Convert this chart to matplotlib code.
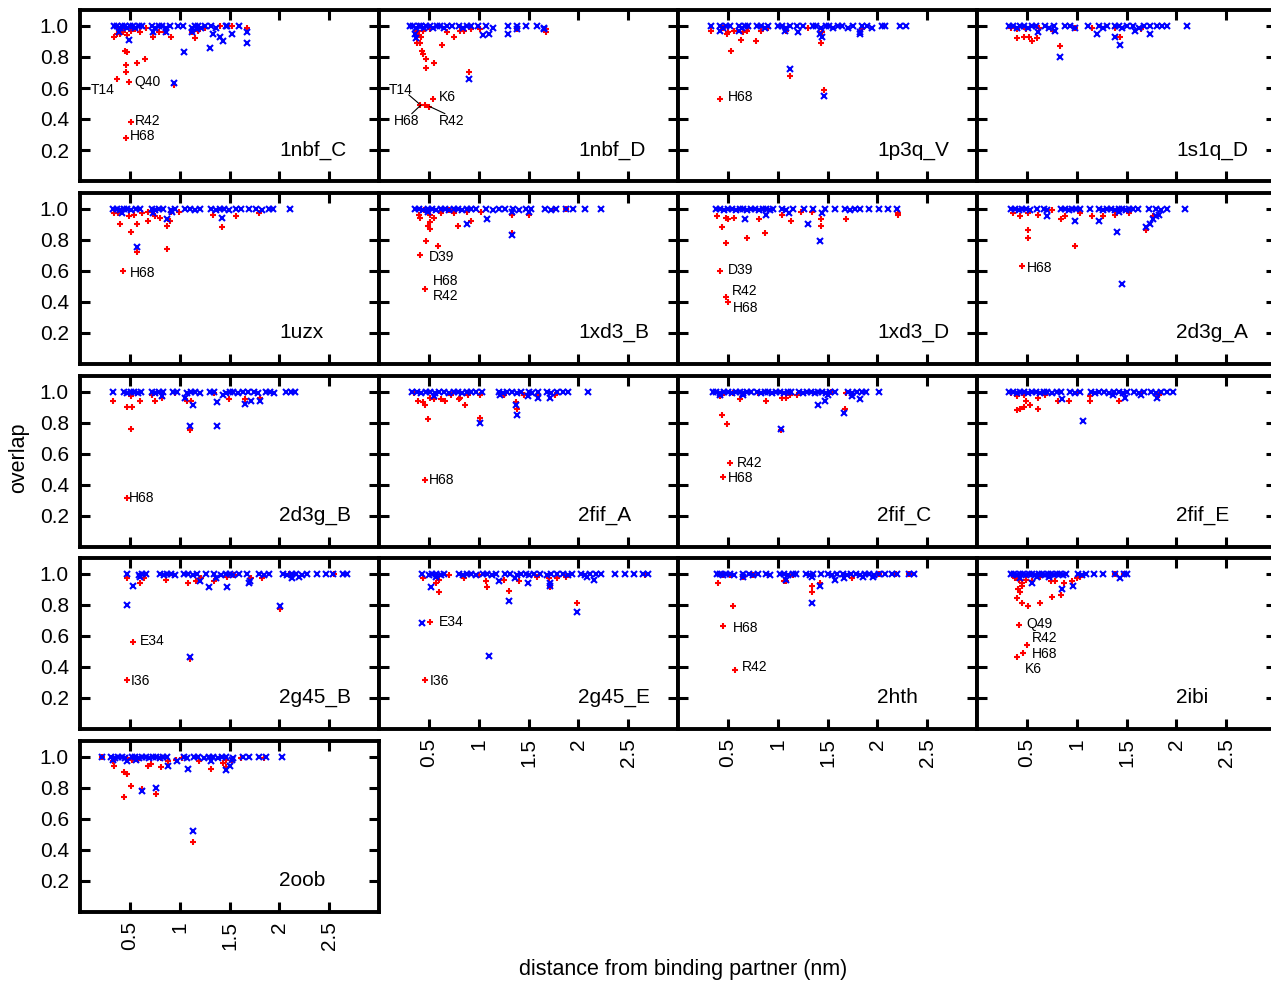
import matplotlib
matplotlib.use("Agg")
import matplotlib.pyplot as plt

plt.rcParams['font.family'] = ['Liberation Sans', 'DejaVu Sans']

panel_names = ["1nbf_C", "1nbf_D", "1p3q_V", "1s1q_D",
               "1uzx", "1xd3_B", "1xd3_D", "2d3g_A",
               "2d3g_B", "2fif_A", "2fif_C", "2fif_E",
               "2g45_B", "2g45_E", "2hth", "2ibi",
               "2oob"]

x_ticks = [0.5, 1, 1.5, 2, 2.5]
x_tick_labels = ["0.5", "1", "1.5", "2", "2.5"]
y_ticks = [0.2, 0.4, 0.6, 0.8, 1.0]
y_tick_labels = ["0.2", "0.4", "0.6", "0.8", "1.0"]

# ---------------- data (distance nm, overlap) ----------------
red_1nbf_C = [(0.34,0.93),(0.37,0.95),(0.40,0.95),(0.43,0.96),(0.47,0.94),(0.51,0.97),(0.55,0.98),(0.60,0.96),(0.66,0.99),(0.73,0.93),(0.79,0.96),(0.85,0.96),(0.91,0.93),(1.12,0.96),(1.15,0.92),(1.18,0.97),(1.25,0.99),(1.40,1.0),(1.53,1.0),(1.68,0.99),(0.38,0.99),(0.44,0.99),(0.52,0.99),
              (0.45,0.84),(0.47,0.83),(0.46,0.75),(0.46,0.70),(0.37,0.66),(0.49,0.64),(0.57,0.76),(0.65,0.79),(0.51,0.38),(0.46,0.28),(0.94,0.62)]
blue_1nbf_C = [(0.34,1.0),(0.37,1.0),(0.40,0.99),(0.42,1.0),(0.45,1.0),(0.47,0.99),(0.50,1.0),(0.53,1.0),(0.55,0.99),(0.59,1.0),(0.62,1.0),(0.72,1.0),(0.75,0.99),(0.79,1.0),(0.82,1.0),(0.86,0.99),(0.90,1.0),(0.98,1.0),(1.03,1.0),(1.12,0.99),(1.15,1.0),(1.18,1.0),(1.21,0.99),(1.25,1.0),(1.31,1.0),(1.36,0.99),(1.47,1.0),(1.60,1.0),
               (0.49,0.91),(0.39,0.96),(0.73,0.96),(0.86,0.96),(1.12,0.96),(1.17,0.98),(0.94,0.63),(1.04,0.83),(1.30,0.86),(1.33,0.95),(1.40,0.93),(1.43,0.90),(1.53,0.95),(1.46,1.0),(1.68,0.96),(1.68,0.89)]

red_1nbf_D = [(0.38,0.97),(0.44,0.97),(0.51,0.98),(0.68,0.96),(0.75,0.93),(0.81,0.97),(0.85,0.97),(0.92,0.98),(1.01,0.98),(1.38,0.98),(1.68,0.96),(1.68,0.98),(0.40,0.94),(0.42,0.93),
              (0.38,0.89),(0.41,0.89),(0.43,0.84),(0.44,0.82),(0.47,0.79),(0.47,0.73),(0.55,0.76),(0.63,0.88),(0.90,0.70),(0.41,0.49),(0.46,0.49),(0.50,0.48),(0.54,0.53)]
blue_1nbf_D = [(0.31,1.0),(0.34,1.0),(0.37,0.99),(0.40,1.0),(0.42,1.0),(0.45,0.99),(0.47,1.0),(0.51,1.0),(0.54,0.99),(0.58,1.0),(0.61,1.0),(0.65,0.99),(0.68,1.0),(0.73,1.0),(0.80,1.0),(0.84,0.99),(0.88,1.0),(0.92,1.0),(0.99,1.0),(1.07,1.0),(1.14,0.99),(1.29,1.0),(1.38,1.0),(1.47,1.0),(1.59,1.0),(1.66,0.99),
               (0.36,0.95),(0.37,0.92),(0.90,0.66),(1.04,0.94),(1.10,0.95),(1.29,0.95),(1.38,0.98),(1.66,0.98)]

red_1p3q_V = [(0.33,0.97),(0.50,0.96),(0.49,0.95),(0.56,0.97),(0.65,0.96),(0.69,0.97),(0.83,0.97),(1.08,0.97),(1.44,0.96),(1.85,0.98),(0.45,0.99),(0.70,0.99),(0.90,0.99),(1.30,0.99),
              (0.63,0.91),(0.78,0.90),(0.53,0.84),(0.42,0.53),(1.12,0.68),(1.43,0.89),(1.46,0.59)]
blue_1p3q_V = [(0.33,1.0),(0.42,1.0),(0.45,0.99),(0.48,1.0),(0.52,1.0),(0.61,1.0),(0.64,0.99),(0.67,1.0),(0.70,1.0),(0.79,1.0),(0.83,1.0),(0.87,0.99),(0.90,1.0),(1.0,1.0),(1.04,1.0),(1.08,0.99),(1.12,1.0),(1.19,1.0),(1.25,1.0),(1.35,1.0),(1.38,1.0),(1.43,0.99),(1.48,1.0),(1.52,1.0),(1.56,0.99),(1.61,1.0),(1.65,1.0),(1.71,0.99),(1.76,1.0),(1.85,1.0),(1.90,1.0),(1.95,0.99),(2.05,1.0),(2.08,1.0),(2.23,1.0),(2.29,1.0),
               (0.42,0.97),(0.61,0.97),(1.07,0.97),(1.20,0.96),(1.42,0.95),(1.44,0.93),(1.12,0.72),(1.46,0.55),(1.83,0.96),(1.83,0.95)]

red_1s1q_D = [(0.40,0.98),(0.49,0.98),(0.76,0.97),(0.98,0.99),(1.15,0.99),(1.38,0.99),(1.65,0.98),(0.34,0.99),(0.62,0.99),
              (0.40,0.92),(0.47,0.93),(0.52,0.93),(0.55,0.90),(0.60,0.92),(0.83,0.87),(1.43,0.93)]
blue_1s1q_D = [(0.32,1.0),(0.36,1.0),(0.40,0.99),(0.43,1.0),(0.47,1.0),(0.51,0.99),(0.55,1.0),(0.59,1.0),(0.68,1.0),(0.72,0.99),(0.77,1.0),(0.88,1.0),(0.93,1.0),(0.98,0.99),(1.11,1.0),(1.22,1.0),(1.26,0.99),(1.30,1.0),(1.38,1.0),(1.42,1.0),(1.45,0.99),(1.51,1.0),(1.57,1.0),(1.63,0.99),(1.68,1.0),(1.74,1.0),(1.81,1.0),(1.86,1.0),(1.91,1.0),(2.11,1.0),
               (0.61,0.96),(0.78,0.97),(1.20,0.95),(1.38,0.93),(1.43,0.88),(0.83,0.80),(1.74,0.95),(1.59,0.97)]

red_1uzx = [(0.34,0.97),(0.38,0.97),(0.49,0.95),(0.54,0.96),(0.62,0.97),(0.68,0.98),(0.75,0.95),(0.80,0.94),(0.91,0.98),(1.33,0.96),(1.57,0.95),(1.80,0.97),(0.99,0.98),
            (0.40,0.90),(0.51,0.85),(0.57,0.90),(0.68,0.92),(0.87,0.89),(0.90,0.92),(0.57,0.72),(0.87,0.74),(0.43,0.60),(1.42,0.88)]
blue_1uzx = [(0.33,1.0),(0.37,1.0),(0.40,0.99),(0.44,1.0),(0.47,1.0),(0.51,0.99),(0.56,1.0),(0.60,1.0),(0.72,1.0),(0.75,0.99),(0.79,1.0),(0.83,1.0),(0.91,0.99),(0.95,1.0),(1.05,1.0),(1.10,1.0),(1.15,0.99),(1.20,1.0),(1.31,1.0),(1.36,0.99),(1.40,1.0),(1.44,1.0),(1.49,0.99),(1.57,1.0),(1.62,1.0),(1.70,1.0),(1.77,1.0),(1.83,0.99),(1.90,1.0),(1.94,1.0),(2.11,1.0),
             (0.42,0.97),(0.57,0.75),(0.87,0.93),(1.42,0.94),(0.73,0.97),(0.92,0.98)]

red_1xd3_B = [(0.40,0.96),(0.41,0.94),(0.51,0.96),(0.55,0.94),(0.62,0.97),(0.75,0.97),(0.88,0.98),(1.02,0.98),(1.33,0.96),(1.51,0.96),(1.76,1.0),(1.88,1.0),(0.45,0.99),(0.70,0.99),
              (0.49,0.89),(0.51,0.91),(0.51,0.87),(0.79,0.89),(0.92,0.92),(0.47,0.79),(0.59,0.76),(0.41,0.70),(0.46,0.48),(1.33,0.84)]
blue_1xd3_B = [(0.36,1.0),(0.40,1.0),(0.44,0.99),(0.49,1.0),(0.53,1.0),(0.57,0.99),(0.62,1.0),(0.66,1.0),(0.70,0.99),(0.75,1.0),(0.79,1.0),(0.83,0.99),(0.88,1.0),(0.92,1.0),(0.97,1.0),(1.07,1.0),(1.14,0.99),(1.20,1.0),(1.26,1.0),(1.34,1.0),(1.40,0.99),(1.47,1.0),(1.53,1.0),(1.67,1.0),(1.73,0.99),(1.78,1.0),(1.88,1.0),(1.95,1.0),(2.07,1.0),(2.23,1.0),
               (0.88,0.90),(1.08,0.93),(1.33,0.83),(1.33,0.98),(1.51,0.98),(0.49,0.98)]

red_1xd3_D = [(0.39,0.95),(0.48,0.94),(0.50,0.93),(0.56,0.94),(0.81,0.93),(1.04,0.96),(1.23,0.98),(1.34,0.98),(1.43,0.93),(1.69,0.93),(2.21,0.97),(2.21,0.96),(0.60,0.99),(0.90,0.99),
              (0.44,0.88),(0.48,0.78),(0.69,0.81),(0.87,0.84),(1.13,0.92),(1.43,0.89),(0.42,0.60),(0.48,0.43),(0.50,0.395)]
blue_1xd3_D = [(0.38,1.0),(0.42,1.0),(0.46,0.99),(0.50,1.0),(0.54,1.0),(0.58,0.99),(0.62,1.0),(0.65,1.0),(0.69,0.99),(0.73,1.0),(0.77,1.0),(0.81,0.99),(0.85,1.0),(0.88,1.0),(0.92,0.99),(0.95,1.0),(1.04,1.0),(1.08,0.99),(1.15,1.0),(1.26,1.0),(1.35,1.0),(1.47,1.0),(1.58,1.0),(1.68,1.0),(1.73,0.99),(1.78,1.0),(1.83,1.0),(1.92,1.0),(2.02,1.0),(2.11,1.0),(2.20,1.0),
               (0.67,0.93),(0.88,0.96),(1.11,0.97),(1.30,0.90),(1.42,0.79),(1.44,0.97)]

red_2d3g_A = [(0.36,0.97),(0.43,0.95),(0.51,0.97),(0.61,0.96),(0.88,0.95),(1.03,0.97),(1.15,0.95),(1.26,0.95),(1.38,0.96),(1.53,0.97),(1.77,0.95),(0.40,0.99),(0.75,0.99),
              (0.51,0.86),(0.51,0.81),(0.84,0.93),(0.98,0.76),(1.70,0.86),(0.45,0.63)]
blue_2d3g_A = [(0.34,1.0),(0.38,1.0),(0.42,0.99),(0.45,1.0),(0.49,1.0),(0.53,0.99),(0.60,1.0),(0.67,1.0),(0.70,0.99),(0.84,1.0),(0.88,1.0),(0.92,0.99),(0.95,1.0),(0.99,1.0),(1.03,1.0),(1.13,1.0),(1.22,1.0),(1.26,0.99),(1.30,1.0),(1.34,1.0),(1.38,0.99),(1.42,1.0),(1.45,1.0),(1.49,0.99),(1.53,1.0),(1.57,1.0),(1.62,1.0),(1.73,1.0),(1.80,1.0),(1.85,0.99),(1.91,1.0),(2.09,1.0),
               (0.70,0.95),(0.98,0.92),(1.22,0.92),(1.40,0.85),(1.45,0.51),(1.70,0.88),(1.74,0.90),(1.77,0.93),(1.80,0.95),(1.83,0.96),(1.42,0.98)]

red_2d3g_B = [(0.33,0.94),(0.51,0.97),(0.60,0.94),(0.75,0.94),(0.72,0.98),(0.82,0.96),(1.07,0.94),(1.11,0.94),(1.34,0.99),(1.49,0.95),(1.66,0.95),(1.81,0.96),(0.56,0.99),(0.95,0.99),
              (0.47,0.90),(0.52,0.90),(0.51,0.76),(1.10,0.75),(0.47,0.31)]
blue_2d3g_B = [(0.33,1.0),(0.44,1.0),(0.47,0.99),(0.51,1.0),(0.54,1.0),(0.58,0.99),(0.61,1.0),(0.72,1.0),(0.75,0.99),(0.79,1.0),(0.83,1.0),(0.93,1.0),(0.97,1.0),(1.07,0.99),(1.11,1.0),(1.15,1.0),(1.20,0.99),(1.30,1.0),(1.34,1.0),(1.46,0.99),(1.50,1.0),(1.54,1.0),(1.59,0.99),(1.64,1.0),(1.69,1.0),(1.75,1.0),(1.79,0.99),(1.87,1.0),(1.91,1.0),(1.95,0.99),(2.07,1.0),(2.12,1.0),(2.16,1.0),
               (1.13,0.91),(1.10,0.78),(1.37,0.93),(1.37,0.78),(1.66,0.92),(1.81,0.94),(1.72,0.94),(0.82,0.97),(1.05,0.96),(1.43,0.98)]

red_2fif_A = [(0.39,0.94),(0.44,0.93),(0.51,0.96),(0.55,0.95),(0.62,0.95),(0.66,0.94),(0.72,0.98),(0.81,0.96),(0.80,0.95),(0.89,0.98),(1.01,0.98),(1.25,0.98),(1.45,0.98),(1.60,0.98),(1.77,0.98),(0.35,0.99),
              (0.46,0.91),(0.49,0.82),(0.86,0.91),(1.01,0.83),(1.37,0.93),(1.38,0.89),(0.46,0.43)]
blue_2fif_A = [(0.33,1.0),(0.38,1.0),(0.42,0.99),(0.47,1.0),(0.51,1.0),(0.56,0.99),(0.60,1.0),(0.65,1.0),(0.70,0.99),(0.75,1.0),(0.79,1.0),(0.83,0.99),(0.88,1.0),(0.92,1.0),(0.97,1.0),(1.03,1.0),(1.20,1.0),(1.24,0.99),(1.28,1.0),(1.33,1.0),(1.38,0.99),(1.42,1.0),(1.50,1.0),(1.54,0.99),(1.60,1.0),(1.69,1.0),(1.73,0.99),(1.79,1.0),(1.85,1.0),(1.90,1.0),(2.10,1.0),
               (1.01,0.80),(1.37,0.91),(1.38,0.85),(1.49,0.97),(1.60,0.96),(1.72,0.96),(1.21,0.98),(0.55,0.97)]

red_2fif_C = [(0.42,0.97),(0.44,0.98),(0.62,0.95),(0.88,0.94),(1.04,0.96),(1.08,0.96),(1.12,0.98),(1.19,0.98),(1.54,1.0),(1.69,0.99),(0.55,0.99),(0.80,0.99),
              (0.44,0.85),(0.49,0.79),(1.03,0.75),(1.68,0.89),(0.52,0.54),(0.45,0.45)]
blue_2fif_C = [(0.35,1.0),(0.38,1.0),(0.42,0.99),(0.46,1.0),(0.50,1.0),(0.54,0.99),(0.58,1.0),(0.62,1.0),(0.65,0.99),(0.69,1.0),(0.73,1.0),(0.79,1.0),(0.83,0.99),(0.87,1.0),(0.90,1.0),(0.94,0.99),(0.98,1.0),(1.02,1.0),(1.06,0.99),(1.10,1.0),(1.13,1.0),(1.21,1.0),(1.25,0.99),(1.29,1.0),(1.33,1.0),(1.37,0.99),(1.40,1.0),(1.44,1.0),(1.48,0.99),(1.53,1.0),(1.58,1.0),(1.71,1.0),(1.75,0.99),(1.80,1.0),(1.85,1.0),(1.89,1.0),(2.02,1.0),
               (1.03,0.76),(1.40,0.91),(1.47,0.94),(1.67,0.86),(1.83,0.95),(1.75,0.97),(1.51,0.98),(0.42,0.98),(0.65,0.98)]

red_2fif_E = [(0.40,0.97),(0.47,0.98),(0.61,0.96),(0.68,0.98),(0.81,0.94),(0.92,0.94),(1.13,0.94),(1.13,0.97),(1.42,0.94),(1.66,0.99),(1.83,0.98),(0.34,0.99),(1.00,0.99),
              (0.40,0.88),(0.43,0.89),(0.47,0.90),(0.53,0.91),(0.49,0.94),(0.61,0.89)]
blue_2fif_E = [(0.32,1.0),(0.36,1.0),(0.40,0.99),(0.43,1.0),(0.47,1.0),(0.51,0.99),(0.55,1.0),(0.59,1.0),(0.63,0.99),(0.67,1.0),(0.70,1.0),(0.75,0.99),(0.80,1.0),(0.84,1.0),(0.93,1.0),(0.98,0.99),(1.03,1.0),(1.14,1.0),(1.18,0.99),(1.22,1.0),(1.27,1.0),(1.32,0.99),(1.37,1.0),(1.42,1.0),(1.46,0.99),(1.51,1.0),(1.58,1.0),(1.63,0.99),(1.68,1.0),(1.75,1.0),(1.80,0.99),(1.85,1.0),(1.91,1.0),(1.97,1.0),
               (0.85,0.95),(1.06,0.81),(1.36,0.98),(1.48,0.96),(1.65,0.98),(1.81,0.96)]

red_2g45_B = [(0.47,0.97),(0.60,0.94),(0.64,0.97),(0.86,0.96),(1.08,0.94),(1.16,0.95),(1.21,0.97),(1.34,0.95),(1.47,0.98),(1.72,0.97),(1.83,0.97),(2.10,1.0),(2.55,1.0),(0.65,0.99),(0.93,0.99),(1.55,0.99),
              (0.53,0.56),(0.47,0.31),(2.01,0.77),(1.10,0.45)]
blue_2g45_B = [(0.47,1.0),(0.59,0.99),(0.62,1.0),(0.66,1.0),(0.80,1.0),(0.84,0.99),(0.87,1.0),(0.91,1.0),(0.95,0.99),(1.04,1.0),(1.08,1.0),(1.13,0.99),(1.17,1.0),(1.26,1.0),(1.34,1.0),(1.41,0.99),(1.46,1.0),(1.50,1.0),(1.54,0.99),(1.60,1.0),(1.68,1.0),(1.80,1.0),(1.85,0.99),(1.90,1.0),(2.04,1.0),(2.08,0.99),(2.13,1.0),(2.17,1.0),(2.23,0.99),(2.28,1.0),(2.38,1.0),(2.47,1.0),(2.54,1.0),(2.64,1.0),(2.68,1.0),
               (0.53,0.92),(0.47,0.80),(0.60,0.98),(1.10,0.46),(1.20,0.95),(1.29,0.91),(1.36,0.97),(1.47,0.91),(1.70,0.94),(1.71,0.95),(2.01,0.79),(2.13,0.97),(2.20,0.98)]

red_2g45_E = [(0.44,0.97),(0.57,0.94),(0.60,0.96),(0.85,0.97),(1.07,0.95),(1.25,0.96),(1.40,0.95),(1.59,0.98),(1.71,0.97),(1.79,0.97),(1.88,0.98),(2.67,0.99),(0.70,0.99),(1.00,0.99),
              (0.60,0.88),(1.08,0.91),(1.30,0.89),(1.72,0.91),(1.99,0.81),(0.51,0.69),(0.46,0.31)]
blue_2g45_E = [(0.43,1.0),(0.50,0.99),(0.53,1.0),(0.57,1.0),(0.62,0.99),(0.65,1.0),(0.80,1.0),(0.84,0.99),(0.88,1.0),(0.92,1.0),(0.97,0.99),(1.04,1.0),(1.08,1.0),(1.13,0.99),(1.17,1.0),(1.26,1.0),(1.31,1.0),(1.38,0.99),(1.42,1.0),(1.47,1.0),(1.51,0.99),(1.56,1.0),(1.62,1.0),(1.69,0.99),(1.73,1.0),(1.79,1.0),(1.85,1.0),(1.90,0.99),(1.94,1.0),(2.03,1.0),(2.07,0.99),(2.12,1.0),(2.18,1.0),(2.23,1.0),(2.37,1.0),(2.47,1.0),(2.56,1.0),(2.65,1.0),(2.70,1.0),
               (0.52,0.91),(0.57,0.98),(0.43,0.68),(1.10,0.47),(1.20,0.95),(1.30,0.82),(1.36,0.97),(1.49,0.94),(1.72,0.94),(1.72,0.92),(1.99,0.75),(2.09,0.98),(2.16,0.96)]

red_2hth = [(0.40,0.94),(0.52,0.99),(0.65,0.98),(0.75,0.99),(1.06,0.95),(1.08,0.95),(1.15,0.99),(1.34,0.92),(1.34,0.88),(1.42,0.94),(1.75,0.97),(2.02,1.0),(2.19,1.0),(2.32,1.0),(0.45,0.99),(0.90,0.99),
            (0.55,0.79),(0.45,0.66),(0.57,0.38)]
blue_2hth = [(0.39,1.0),(0.42,1.0),(0.45,0.99),(0.48,1.0),(0.52,1.0),(0.56,0.99),(0.65,1.0),(0.71,1.0),(0.75,0.99),(0.80,1.0),(0.88,1.0),(0.92,0.99),(1.02,1.0),(1.06,1.0),(1.10,0.99),(1.15,1.0),(1.18,1.0),(1.28,1.0),(1.32,0.99),(1.35,1.0),(1.43,1.0),(1.51,1.0),(1.55,0.99),(1.60,1.0),(1.66,1.0),(1.70,0.99),(1.74,1.0),(1.79,1.0),(1.83,0.99),(1.88,1.0),(1.92,1.0),(1.97,0.99),(2.02,1.0),(2.08,1.0),(2.15,1.0),(2.20,1.0),(2.32,1.0),(2.37,1.0),
             (1.08,0.96),(1.34,0.98),(1.42,0.92),(1.34,0.81),(1.58,0.96),(1.67,0.97),(1.86,0.98),(1.96,0.98),(0.65,0.98)]

red_2ibi = [(0.38,0.97),(0.42,0.96),(0.45,0.94),(0.49,0.96),(0.55,0.95),(0.63,0.98),(0.74,0.95),(0.78,0.95),(0.95,0.95),(1.00,0.97),(1.03,0.98),(1.38,1.0),(1.47,1.0),(0.35,0.99),(0.60,0.99),
            (0.41,0.90),(0.43,0.88),(0.45,0.92),(0.40,0.84),(0.45,0.81),(0.51,0.79),(0.63,0.81),(0.75,0.85),(0.84,0.86),(0.87,0.94),(0.42,0.67),(0.50,0.54),(0.46,0.49),(0.40,0.46)]
blue_2ibi = [(0.34,1.0),(0.37,1.0),(0.40,0.99),(0.43,1.0),(0.46,1.0),(0.49,0.99),(0.52,1.0),(0.55,1.0),(0.58,0.99),(0.62,1.0),(0.65,1.0),(0.68,0.99),(0.71,1.0),(0.74,1.0),(0.77,0.99),(0.80,1.0),(0.83,1.0),(0.86,0.99),(0.89,1.0),(1.01,1.0),(1.05,0.99),(1.09,1.0),(1.17,1.0),(1.26,1.0),(1.38,1.0),(1.47,1.0),(1.51,1.0),
             (0.43,0.97),(0.55,0.94),(0.85,0.90),(0.96,0.92),(1.43,0.97),(0.72,0.98),(0.60,0.98)]

red_2oob = [(0.22,1.0),(0.33,0.97),(0.34,0.94),(0.47,0.99),(0.52,0.98),(0.58,0.98),(0.68,0.94),(0.71,0.95),(0.81,0.99),(0.88,0.97),(0.96,0.98),(1.02,0.99),(1.19,0.97),(1.31,0.92),(1.43,0.96),(1.46,0.98),(1.53,0.97),(1.62,0.99),(1.85,0.99),
            (0.44,0.90),(0.47,0.89),(0.51,0.81),(0.44,0.74),(0.62,0.79),(0.76,0.76),(0.81,0.93),(1.13,0.45),(1.46,0.93)]
blue_2oob = [(0.22,1.0),(0.31,1.0),(0.35,0.99),(0.38,1.0),(0.42,1.0),(0.45,0.99),(0.52,1.0),(0.55,1.0),(0.59,0.99),(0.62,1.0),(0.66,1.0),(0.69,0.99),(0.73,1.0),(0.76,1.0),(0.80,0.99),(0.83,1.0),(0.87,1.0),(1.04,1.0),(1.07,0.99),(1.14,1.0),(1.18,1.0),(1.24,0.99),(1.29,1.0),(1.33,1.0),(1.38,0.99),(1.42,1.0),(1.46,1.0),(1.54,0.99),(1.64,1.0),(1.70,1.0),(1.80,1.0),(1.87,1.0),(2.03,1.0),
             (0.33,0.98),(0.47,0.97),(0.62,0.78),(0.76,0.80),(0.88,0.94),(0.97,0.97),(1.08,0.92),(1.13,0.52),(1.31,0.97),(1.46,0.91),(1.50,0.94),(1.53,0.98),(0.56,0.98)]

# residue labels: (text, x, y, horizontal alignment)
labels_1nbf_C = [("T14", 0.35, 0.59, "right"), ("Q40", 0.55, 0.64, "left"),
                 ("R42", 0.55, 0.39, "left"), ("H68", 0.50, 0.29, "left")]
labels_1nbf_D = [("T14", 0.10, 0.59, "left"), ("K6", 0.60, 0.54, "left"),
                 ("H68", 0.15, 0.385, "left"), ("R42", 0.60, 0.385, "left")]
leaders_1nbf_D = [((0.30, 0.40), (0.555, 0.50)), ((0.33, 0.42), (0.435, 0.49)),
                  ((0.66, 0.51), (0.435, 0.48))]
labels_1p3q_V = [("H68", 0.50, 0.54, "left")]
labels_1uzx = [("H68", 0.50, 0.585, "left")]
labels_1xd3_B = [("D39", 0.50, 0.69, "left"), ("H68", 0.54, 0.53, "left"), ("R42", 0.54, 0.435, "left")]
labels_1xd3_D = [("D39", 0.50, 0.60, "left"), ("R42", 0.54, 0.465, "left"), ("H68", 0.55, 0.36, "left")]
labels_2d3g_A = [("H68", 0.50, 0.615, "left")]
labels_2d3g_B = [("H68", 0.49, 0.31, "left")]
labels_2fif_A = [("H68", 0.50, 0.43, "left")]
labels_2fif_C = [("R42", 0.59, 0.54, "left"), ("H68", 0.50, 0.44, "left")]
labels_2g45_B = [("E34", 0.60, 0.565, "left"), ("I36", 0.51, 0.306, "left")]
labels_2g45_E = [("E34", 0.60, 0.687, "left"), ("I36", 0.51, 0.306, "left")]
labels_2hth = [("H68", 0.55, 0.648, "left"), ("R42", 0.64, 0.397, "left")]
labels_2ibi = [("Q49", 0.50, 0.674, "left"), ("R42", 0.55, 0.584, "left"),
               ("H68", 0.55, 0.48, "left"), ("K6", 0.48, 0.384, "left")]

red_data = [red_1nbf_C, red_1nbf_D, red_1p3q_V, red_1s1q_D, red_1uzx, red_1xd3_B, red_1xd3_D,
            red_2d3g_A, red_2d3g_B, red_2fif_A, red_2fif_C, red_2fif_E, red_2g45_B, red_2g45_E,
            red_2hth, red_2ibi, red_2oob]
blue_data = [blue_1nbf_C, blue_1nbf_D, blue_1p3q_V, blue_1s1q_D, blue_1uzx, blue_1xd3_B, blue_1xd3_D,
             blue_2d3g_A, blue_2d3g_B, blue_2fif_A, blue_2fif_C, blue_2fif_E, blue_2g45_B, blue_2g45_E,
             blue_2hth, blue_2ibi, blue_2oob]
label_data = [labels_1nbf_C, labels_1nbf_D, labels_1p3q_V, [], labels_1uzx, labels_1xd3_B,
              labels_1xd3_D, labels_2d3g_A, labels_2d3g_B, labels_2fif_A, labels_2fif_C, [],
              labels_2g45_B, labels_2g45_E, labels_2hth, labels_2ibi, []]
leader_data = {1: leaders_1nbf_D}

# ---------------- layout ----------------
W, H = 1271, 982
fig = plt.figure(figsize=(W / 100, H / 100), dpi=100)
col_left = [80, 379, 678, 977]
row_top = [10.5, 193, 376, 558, 741]
pw, ph = 299, 170.5
n = len(panel_names)

for i, name in enumerate(panel_names):
    r, c = divmod(i, 4)
    ax = fig.add_axes([col_left[c] / W, 1 - (row_top[r] + ph) / H, pw / W, ph / H])
    ax.set_xlim(0, 3)
    ax.set_ylim(0, 1.1)
    rx, ry = zip(*red_data[i])
    bx, by = zip(*blue_data[i])
    ax.plot(rx, ry, linestyle='none', marker='+', color='#ff0000',
            markersize=4.3, markeredgewidth=1.5)
    ax.plot(bx, by, linestyle='none', marker='x', color='#0000ff',
            markersize=3.7, markeredgewidth=1.5)
    for txt, tx, ty, ha in label_data[i]:
        ax.text(tx, ty, txt, fontsize=10, ha=ha, va='center', color='black')
    for (xs, ys) in leader_data.get(i, []):
        ax.plot(xs, ys, color='black', lw=0.8)
    ax.text(2.0, 0.2, name, fontsize=15, ha='left', va='center')

    ax.set_xticks(x_ticks)
    ax.set_yticks(y_ticks)
    for s in ax.spines.values():
        s.set_linewidth(2.8)
    ax.tick_params(direction='in', length=7, width=2.2, top=True, right=True,
                   labelsize=15)
    ax.tick_params(axis='y', pad=8)
    ax.tick_params(axis='x', pad=7)
    if c == 0:
        ax.set_yticklabels(y_tick_labels)
    else:
        ax.set_yticklabels([])
    if i + 4 >= n:
        ax.set_xticklabels(x_tick_labels, rotation=90)
    else:
        ax.set_xticklabels([])

fig.text(19 / W, 1 - 458 / H, "overlap", rotation=90, fontsize=15.5,
         ha='center', va='center')
fig.text(683 / W, 1 - 970 / H, "distance from binding partner (nm)", fontsize=15.5,
         ha='center', va='center')

fig.savefig("out.png", dpi=100)
